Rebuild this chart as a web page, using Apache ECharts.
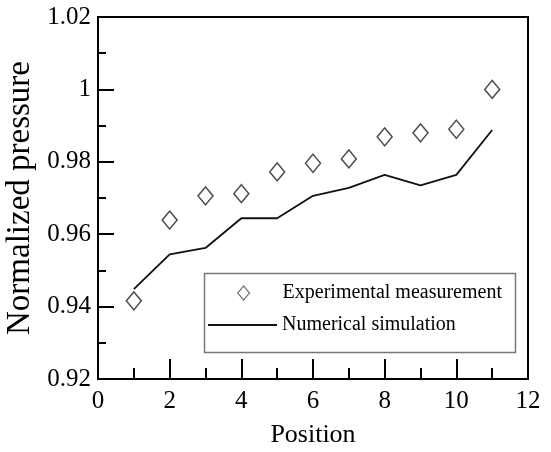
<!DOCTYPE html>
<html>
<head>
<meta charset="utf-8">
<script src="https://cdn.jsdelivr.net/npm/echarts@6/dist/echarts.min.js"></script>
<style>html,body{margin:0;padding:0;background:#fff}#c{width:551px;height:452px}</style>
</head>
<body>
<div id="c"></div>
<script>
var positions = [1, 2, 3, 4, 5, 6, 7, 8, 9, 10, 11];
var experimental = [0.9416, 0.9639, 0.9706, 0.9712, 0.9772, 0.9796, 0.9808, 0.9869, 0.9880, 0.9890, 1.0000];
var simulation = [0.9448, 0.9544, 0.9562, 0.9644, 0.9644, 0.9706, 0.9728, 0.9764, 0.9735, 0.9764, 0.9888];
var xTicks = [0, 2, 4, 6, 8, 10, 12];
var yTicks = [0.92, 0.94, 0.96, 0.98, 1, 1.02];

var FONT = '"Liberation Serif", "Times New Roman", serif';
var chart = echarts.init(document.getElementById('c'), null, {renderer: 'canvas'});
var option = {
  animation: false,
  backgroundColor: '#fff',
  textStyle: {fontFamily: FONT, color: '#000'},
  grid: {left: 98, right: 23, top: 17, bottom: 73, show: true, borderColor: '#000', borderWidth: 2,
    containLabel: false, outerBoundsMode: 'none'},
  xAxis: {
    type: 'value', min: xTicks[0], max: xTicks[xTicks.length - 1], interval: 2,
    name: 'Position', nameLocation: 'middle', nameGap: 43,
    nameTextStyle: {fontFamily: FONT, fontSize: 26, color: '#000'},
    axisLine: {show: true, lineStyle: {color: '#000', width: 2}},
    axisTick: {show: true, inside: true, length: 20, lineStyle: {color: '#000', width: 2}},
    minorTick: {show: true, splitNumber: 2, length: 11, lineStyle: {color: '#000', width: 2}},
    axisLabel: {fontFamily: FONT, fontSize: 25, color: '#000', margin: 10},
    splitLine: {show: false}
  },
  yAxis: {
    type: 'value', min: yTicks[0], max: yTicks[yTicks.length - 1], interval: 0.02,
    name: 'Normalized pressure', nameLocation: 'middle', nameGap: 53, nameRotate: 90,
    nameTextStyle: {fontFamily: FONT, fontSize: 33, color: '#000'},
    axisLine: {show: true, lineStyle: {color: '#000', width: 2}},
    axisTick: {show: true, inside: true, length: 16, lineStyle: {color: '#000', width: 2}},
    minorTick: {show: true, splitNumber: 2, length: 8, lineStyle: {color: '#000', width: 2}},
    axisLabel: {fontFamily: FONT, fontSize: 25, color: '#000', margin: 7,
      formatter: function (v) { return String(+v.toFixed(2)); }},
    splitLine: {show: false}
  },
  legend: [
    {
      data: [{name: 'Experimental measurement', icon: 'diamond',
        itemStyle: {color: '#fff', borderColor: '#555', borderWidth: 1.2}}],
      left: 237, top: 283, padding: 0,
      itemWidth: 12, itemHeight: 14,
      textStyle: {fontFamily: FONT, fontSize: 20, color: '#000', padding: [0, 0, 0, 28]},
      selectedMode: false
    },
    {
      data: [{name: 'Numerical simulation', icon: 'rect', itemStyle: {color: '#111', borderWidth: 0}}],
      left: 208, top: 315, padding: 0,
      itemWidth: 69, itemHeight: 2,
      textStyle: {fontFamily: FONT, fontSize: 20, color: '#000'},
      selectedMode: false
    }
  ],
  graphic: [{
    type: 'rect', left: 202, top: 271, z: 0,
    shape: {width: 311, height: 79},
    style: {fill: 'none', stroke: '#777', lineWidth: 1.5}
  }],
  series: [
    {
      name: 'Numerical simulation', type: 'line',
      data: positions.map(function (x, i) { return [x, simulation[i]]; }),
      symbol: 'none', showSymbol: false,
      lineStyle: {color: '#111', width: 1.8},
      itemStyle: {color: '#111'}
    },
    {
      name: 'Experimental measurement', type: 'scatter',
      data: positions.map(function (x, i) { return [x, experimental[i]]; }),
      symbol: 'diamond', symbolSize: [15, 18],
      itemStyle: {color: '#fff', borderColor: '#222', borderWidth: 1.5}
    }
  ]
};
chart.setOption(option);
</script>
</body>
</html>
